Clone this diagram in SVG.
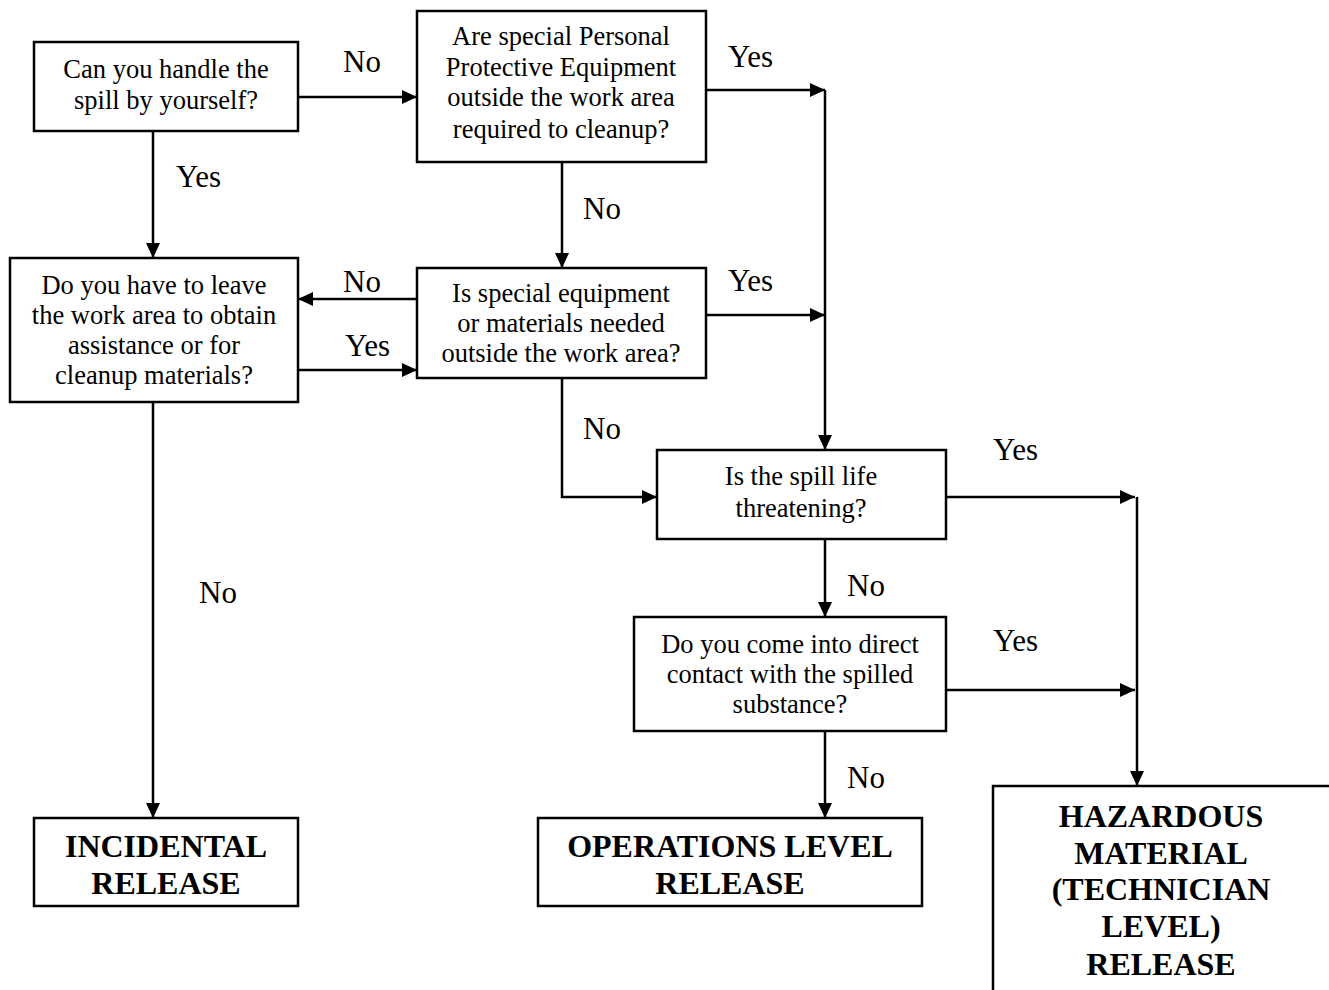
<svg xmlns="http://www.w3.org/2000/svg" width="1329" height="990" viewBox="0 0 1329 990">
<defs>
<marker id="ah" markerUnits="userSpaceOnUse" markerWidth="15" markerHeight="14" refX="15" refY="7" orient="auto">
<path d="M0,0 L15,7 L0,14 z" fill="#000"/>
</marker>
<style>
.box{fill:#fff;stroke:#000;stroke-width:2.5}
.q{font-family:"Liberation Serif","Times New Roman",serif;font-size:26.5px;text-anchor:middle;fill:#000}
.b{font-family:"Liberation Serif","Times New Roman",serif;font-size:32px;font-weight:bold;text-anchor:middle;fill:#000}
.lbl{font-family:"Liberation Serif","Times New Roman",serif;font-size:31px;fill:#000}
.c{fill:none;stroke:#000;stroke-width:2.5}
.ca{fill:none;stroke:#000;stroke-width:2.5;marker-end:url(#ah)}
</style>
</defs>
<rect width="1329" height="990" fill="#fff"/>
<g id="connectors">
<path class="ca" d="M298,97 H417"/>
<path class="ca" d="M153,131 V258"/>
<path class="ca" d="M562,162 V268"/>
<path class="ca" d="M706,90 H825"/>
<path class="ca" d="M825,90 V450"/>
<path class="ca" d="M706,315 H825"/>
<path class="ca" d="M417,299 H298"/>
<path class="ca" d="M298,370 H417"/>
<path class="ca" d="M562,378 V497 H657"/>
<path class="ca" d="M153,402 V818"/>
<path class="ca" d="M946,497 H1135"/>
<path class="ca" d="M1137,497 V786"/>
<path class="ca" d="M946,690 H1135"/>
<path class="ca" d="M825,539 V617"/>
<path class="ca" d="M825,731 V818"/>
<text class="lbl" x="343" y="72">No</text>
<text class="lbl" x="176" y="187">Yes</text>
<text class="lbl" x="343" y="292">No</text>
<text class="lbl" x="345" y="356">Yes</text>
<text class="lbl" x="728" y="67">Yes</text>
<text class="lbl" x="583" y="219">No</text>
<text class="lbl" x="728" y="291">Yes</text>
<text class="lbl" x="583" y="439">No</text>
<text class="lbl" x="993" y="460">Yes</text>
<text class="lbl" x="847" y="596">No</text>
<text class="lbl" x="993" y="651">Yes</text>
<text class="lbl" x="847" y="788">No</text>
<text class="lbl" x="199" y="603">No</text>
</g>
<g id="n1">
<rect class="box" x="34" y="42" width="264" height="89"/>
<text class="q" x="166" y="78">Can you handle the</text>
<text class="q" x="166" y="109">spill by yourself?</text>
</g>
<g id="n2">
<rect class="box" x="10" y="258" width="288" height="144"/>
<text class="q" x="154" y="294">Do you have to leave</text>
<text class="q" x="154" y="324">the work area to obtain</text>
<text class="q" x="154" y="354">assistance or for</text>
<text class="q" x="154" y="384">cleanup materials?</text>
</g>
<g id="n3">
<rect class="box" x="417" y="11" width="289" height="151"/>
<text class="q" x="561" y="45">Are special Personal</text>
<text class="q" x="561" y="76">Protective Equipment</text>
<text class="q" x="561" y="106">outside the work area</text>
<text class="q" x="561" y="138">required to cleanup?</text>
</g>
<g id="n4">
<rect class="box" x="417" y="268" width="289" height="110"/>
<text class="q" x="561" y="302">Is special equipment</text>
<text class="q" x="561" y="332">or materials needed</text>
<text class="q" x="561" y="362">outside the work area?</text>
</g>
<g id="n5">
<rect class="box" x="657" y="450" width="289" height="89"/>
<text class="q" x="801" y="485">Is the spill life</text>
<text class="q" x="801" y="517">threatening?</text>
</g>
<g id="n6">
<rect class="box" x="634" y="617" width="312" height="114"/>
<text class="q" x="790" y="653">Do you come into direct</text>
<text class="q" x="790" y="683">contact with the spilled</text>
<text class="q" x="790" y="713">substance?</text>
</g>
<g id="n7">
<rect class="box" x="34" y="818" width="264" height="88"/>
<text class="b" x="166" y="857">INCIDENTAL</text>
<text class="b" x="166" y="894">RELEASE</text>
</g>
<g id="n8">
<rect class="box" x="538" y="818" width="384" height="88"/>
<text class="b" x="730" y="857">OPERATIONS LEVEL</text>
<text class="b" x="730" y="894">RELEASE</text>
</g>
<g id="n9">
<rect class="box" x="993" y="786" width="400" height="260"/>
<text class="b" x="1161" y="827">HAZARDOUS</text>
<text class="b" x="1161" y="864">MATERIAL</text>
<text class="b" x="1161" y="900">(TECHNICIAN</text>
<text class="b" x="1161" y="937">LEVEL)</text>
<text class="b" x="1161" y="975">RELEASE</text>
</g>
</svg>
